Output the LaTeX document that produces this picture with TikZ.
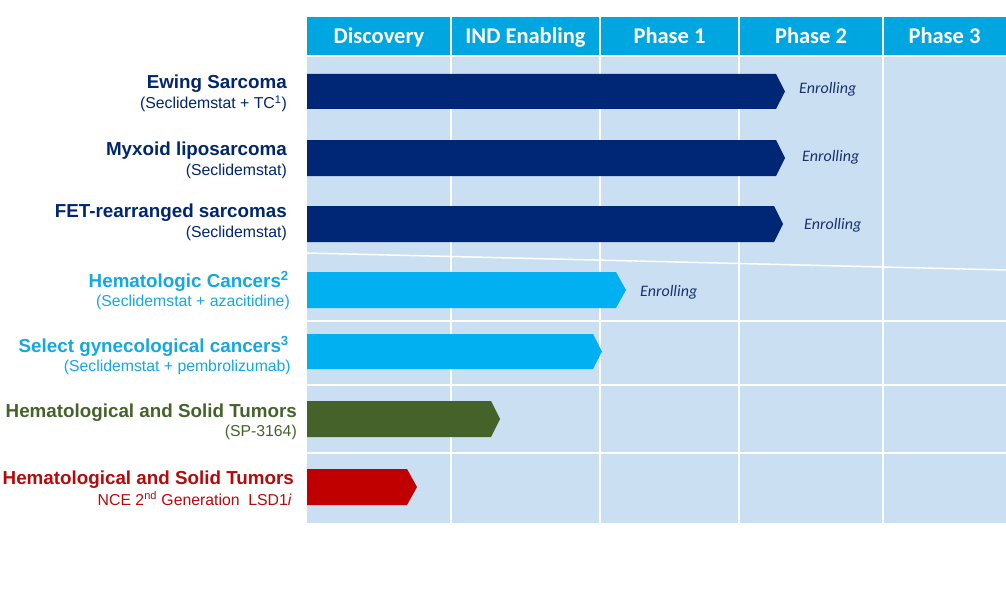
\documentclass[tikz,border=0pt]{standalone}
\usepackage{fontspec}
\setmainfont{Liberation Sans}
\newfontfamily\calib{Carlito}
\definecolor{hdr}{RGB}{0,166,224}
\definecolor{bodyc}{RGB}{202,223,241}
\definecolor{navy}{RGB}{0,38,118}
\definecolor{navytxt}{RGB}{0,38,110}
\definecolor{cyanbar}{RGB}{0,176,240}
\definecolor{cyantxt}{RGB}{20,168,225}
\definecolor{greenbar}{RGB}{68,98,42}
\definecolor{greentxt}{RGB}{68,98,42}
\definecolor{redbar}{RGB}{192,0,0}
\definecolor{redtxt}{RGB}{180,10,10}
\definecolor{enroll}{RGB}{25,50,110}
\tikzset{
  hdrtext/.style={text=white,font=\calib\bfseries\fontsize{22.5}{25}\selectfont,anchor=base,inner sep=0pt},
  titletext/.style={font=\bfseries\fontsize{18.8}{21}\selectfont,anchor=base east,inner sep=0pt},
  subtext/.style={font=\fontsize{15.8}{18}\selectfont,anchor=base east,inner sep=0pt},
  enrolltext/.style={text=enroll,font=\calib\itshape\fontsize{16}{18}\selectfont,anchor=base west,inner sep=0pt},
  gridline/.style={white,line width=2pt},
  hline/.style={white,line width=1.5pt},
}
\begin{document}
\begin{tikzpicture}[x=1pt,y=-1pt]
\useasboundingbox (0,0) rectangle (1006,591);
% backgrounds
\fill[hdr] (307,17) rectangle (1006,55);
\fill[bodyc] (307,57) rectangle (1006,523);
% grid
\foreach \x in {451,600,739,883} \draw[gridline] (\x,17) -- (\x,523);
\draw[hline] (307,253) -- (1006,270);
\draw[hline] (307,321) -- (1006,321);
\draw[hline] (307,385) -- (1006,385);
\draw[hline] (307,453) -- (1006,453);
% header
\node[hdrtext] (h1) at (379,44) {Discovery};
\node[hdrtext] (h2) at (525.5,44) {IND Enabling};
\node[hdrtext] (h3) at (669.5,44) {Phase 1};
\node[hdrtext] (h4) at (811,44) {Phase 2};
\node[hdrtext] (h5) at (944.5,44) {Phase 3};
% bars
\fill[navy] (307,74) -- (776,74) -- (785,91.5) -- (776,109) -- (307,109) -- cycle;
\fill[navy] (307,140) -- (776,140) -- (785,158) -- (776,176) -- (307,176) -- cycle;
\fill[navy] (307,206) -- (774,206) -- (783,224) -- (774,242) -- (307,242) -- cycle;
\fill[cyanbar] (307,272) -- (616,272) -- (626,290) -- (616,308) -- (307,308) -- cycle;
\fill[cyanbar] (307,334) -- (593,334) -- (602,351.5) -- (593,369) -- (307,369) -- cycle;
\fill[greenbar] (307,401) -- (491,401) -- (500,419) -- (491,437) -- (307,437) -- cycle;
\fill[redbar] (307,469) -- (407,469) -- (417,487) -- (407,505) -- (307,505) -- cycle;
% enrolling
\node[enrolltext] (e1) at (799,94) {Enrolling};
\node[enrolltext] (e2) at (802,161) {Enrolling};
\node[enrolltext] (e3) at (804,229) {Enrolling};
\node[enrolltext] (e4) at (640,296) {Enrolling};
% labels
\node[titletext,text=navytxt] (t1) at (287,89) {Ewing Sarcoma};
\node[subtext,text=navytxt] (s1) at (287,109) {(Seclidemstat + TC\textsuperscript{1})};
\node[titletext,text=navytxt] (t2) at (287,155) {Myxoid liposarcoma};
\node[subtext,text=navytxt] (s2) at (287,175) {(Seclidemstat)};
\node[titletext,text=navytxt] (t3) at (287,217) {FET-rearranged sarcomas};
\node[subtext,text=navytxt] (s3) at (287,237) {(Seclidemstat)};
\node[titletext,text=cyantxt] (t4) at (289,287) {Hematologic Cancers\textsuperscript{2}};
\node[subtext,text=cyantxt] (s4) at (290,306) {(Seclidemstat + azacitidine)};
\node[titletext,text=cyantxt] (t5) at (289,352) {Select gynecological cancers\textsuperscript{3}};
\node[subtext,text=cyantxt] (s5) at (291,371) {(Seclidemstat + pembrolizumab)};
\node[titletext,text=greentxt] (t6) at (297,417) {Hematological and Solid Tumors};
\node[subtext,text=greentxt] (s6) at (297,436) {(SP-3164)};
\node[titletext,text=redtxt] (t7) at (294,484) {Hematological and Solid Tumors};
\node[subtext,text=redtxt] (s7) at (292,505) {NCE 2\textsuperscript{nd} Generation\ \ LSD1\textit{i}};
\end{tikzpicture}
\end{document}
